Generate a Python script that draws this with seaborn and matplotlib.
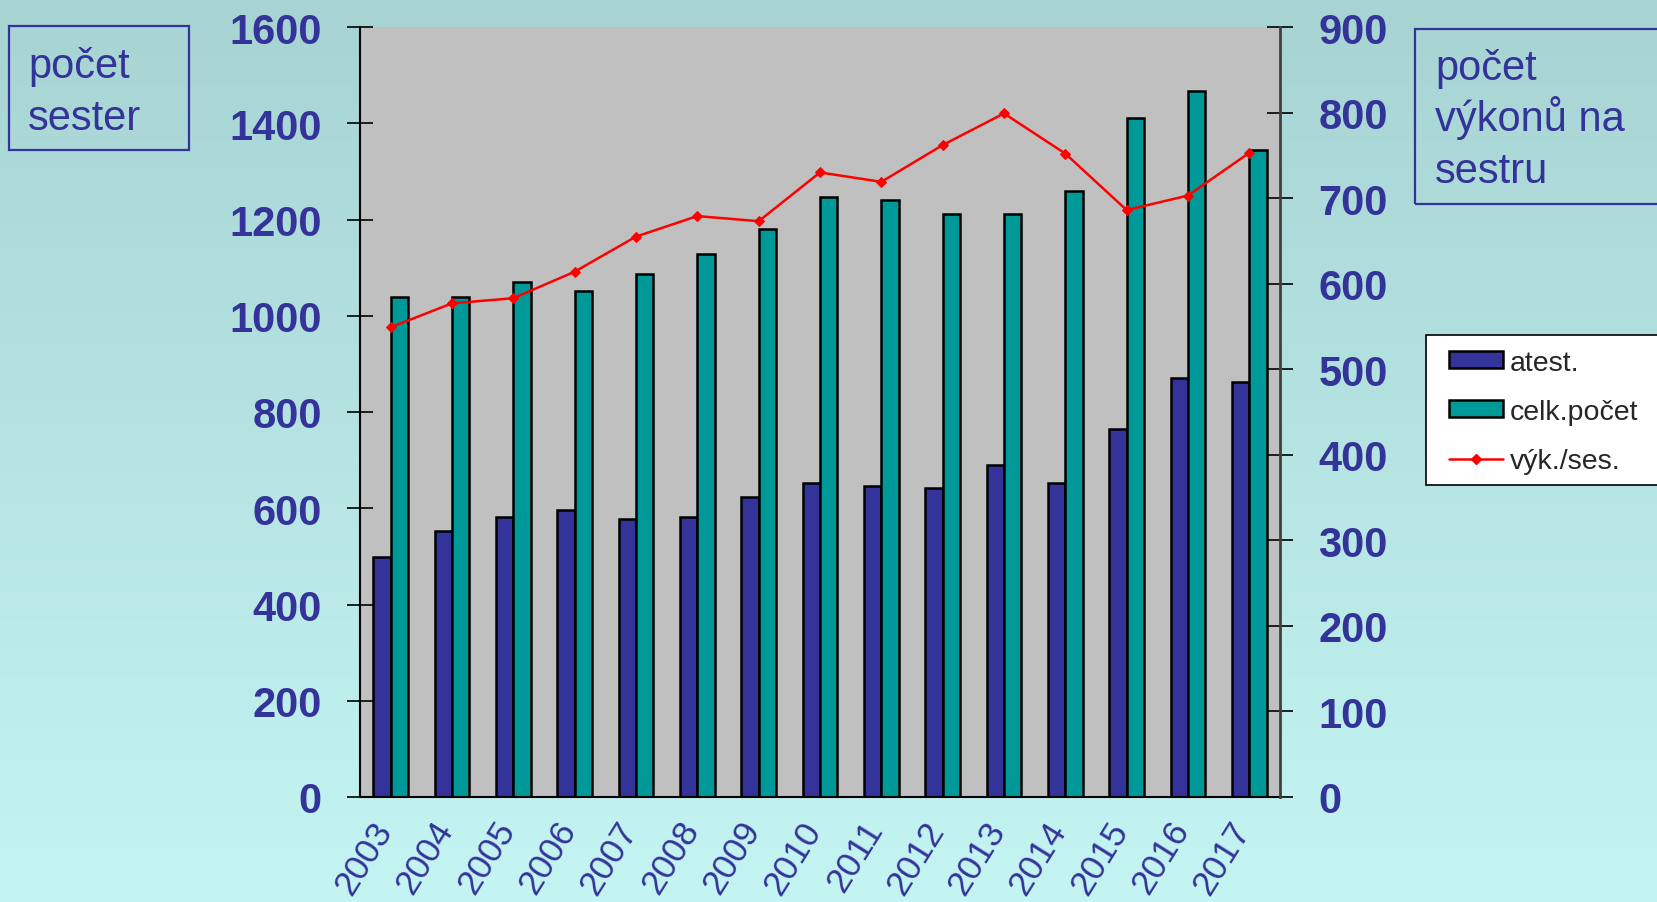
import matplotlib
matplotlib.use("Agg")
import matplotlib.pyplot as plt
import matplotlib.transforms as mtransforms
from matplotlib.colors import LinearSegmentedColormap
from matplotlib.patches import Patch, Rectangle
from matplotlib.lines import Line2D
import numpy as np
import pandas as pd
import seaborn as sns

# data
years = [str(y) for y in range(2003, 2018)]
atest = [498, 552, 581, 597, 578, 581, 624, 652, 647, 642, 690, 652, 765, 871, 863]
celk_pocet = [1038, 1038, 1071, 1052, 1087, 1129, 1180, 1246, 1241, 1211, 1211, 1259, 1410, 1467, 1344]
vyk_ses = [549, 577, 583, 614, 655, 679, 673, 730, 719, 762, 799, 752, 686, 703, 753]
series_names = ["atest.", "celk.počet", "výk./ses."]

sns.set_style("white")
plt.rcParams["font.family"] = ["Liberation Sans", "DejaVu Sans"]

BLUE = "#333399"
TEAL = "#009999"
W, H = 1657, 903

fig = plt.figure(figsize=(W / 100, H / 100), dpi=100)

# background gradient
bg = fig.add_axes([0, 0, 1, 1], zorder=-10)
grad = np.linspace(0, 1, 256).reshape(-1, 1)
cmap = LinearSegmentedColormap.from_list("bg", ["#a7d3d3", "#c4f5f3"])
bg.imshow(grad, aspect="auto", cmap=cmap, extent=[0, 1, 0, 1], origin="upper")
bg.axis("off")

# main axes (pixel box 360..1280, 28..798)
ax = fig.add_axes([360 / W, 1 - 798 / H, 920 / W, 770 / H])
ax.set_facecolor("#c0c0c0")

df = pd.DataFrame({
    "rok": years * 2,
    "pocet": atest + celk_pocet,
    "serie": [series_names[0]] * len(years) + [series_names[1]] * len(years),
})
sns.barplot(data=df, x="rok", y="pocet", hue="serie", palette=[BLUE, TEAL],
            width=0.57, edgecolor="black", linewidth=1.8, saturation=1,
            legend=False, ax=ax)

ax.set_xlim(-0.5, len(years) - 0.5)
ax.set_ylim(0, 1600)
ax.set_yticks(range(0, 1601, 200))
ax.set_xlabel("")
ax.set_ylabel("")

# category ticks at boundaries, labels at centers
ax.set_xticks(np.arange(len(years)))
ax.set_xticklabels(years, rotation=58, ha="right", va="top",
                   fontsize=25.5, color=BLUE)
ax.set_xticks(np.arange(len(years) + 1) - 0.5, minor=True)
ax.tick_params(axis="x", which="major", length=0, pad=13)
ax.tick_params(axis="x", which="minor", direction="inout", length=15,
               width=1.2, color="black")
shift = mtransforms.ScaledTranslation(8 / 100, 0, fig.dpi_scale_trans)
for lbl in ax.get_xticklabels():
    lbl.set_transform(lbl.get_transform() + shift)

ax.tick_params(axis="y", direction="inout", length=19, width=1.2,
               color="black", pad=18, labelsize=30, labelcolor=BLUE)
for lbl in ax.get_yticklabels():
    lbl.set_fontweight("bold")

for side in ["left", "bottom"]:
    ax.spines[side].set_visible(True)
    ax.spines[side].set_color("black")
    ax.spines[side].set_linewidth(1.5)
ax.spines["top"].set_visible(False)
ax.spines["right"].set_visible(False)

# secondary axis with the line
ax2 = ax.twinx()
sns.lineplot(x=np.arange(len(years)), y=vyk_ses, ax=ax2, color="red",
             linewidth=1.8, marker="D", markersize=5, markeredgecolor="red",
             legend=False)
ax2.set_ylim(0, 900)
ax2.set_yticks(range(0, 901, 100))
ax2.set_xlim(-0.5, len(years) - 0.5)
ax2.tick_params(axis="y", direction="inout", length=19, width=1.2,
                color="black", pad=18, labelsize=30, labelcolor=BLUE)
for lbl in ax2.get_yticklabels():
    lbl.set_fontweight("bold")
for side in ["left", "top", "bottom"]:
    ax2.spines[side].set_visible(False)
ax2.spines["right"].set_visible(True)
ax2.spines["right"].set_color("#404040")
ax2.spines["right"].set_linewidth(2)

# axis title boxes
def fig_xy(px, py):
    return px / W, 1 - py / H

fig.patches.append(Rectangle(fig_xy(9, 151), 180 / W, 124 / H,
                             transform=fig.transFigure, fill=False,
                             edgecolor=BLUE, linewidth=1.6))
for txt, base in [("počet", 78), ("sester", 130)]:
    fig.text(*fig_xy(28, base), txt, fontsize=30, color=BLUE, va="baseline")

fig.patches.append(Rectangle(fig_xy(1415, 205), 300 / W, 175 / H,
                             transform=fig.transFigure, fill=False,
                             edgecolor=BLUE, linewidth=1.6))
for txt, base in [("počet", 80), ("výkonů na", 131), ("sestru", 183)]:
    fig.text(*fig_xy(1435, base), txt, fontsize=30, color=BLUE, va="baseline")

# legend
fig.patches.append(Rectangle(fig_xy(1426, 486), 300 / W, 150 / H,
                             transform=fig.transFigure, facecolor="white",
                             edgecolor="black", linewidth=1.2, zorder=5))
handles = [
    Patch(facecolor=BLUE, edgecolor="black", linewidth=1.8),
    Patch(facecolor=TEAL, edgecolor="black", linewidth=1.8),
    Line2D([], [], color="red", linewidth=1.8, marker="D", markersize=5),
]
leg = fig.legend(handles, series_names, loc="upper left",
                 bbox_to_anchor=fig_xy(1440, 342), frameon=False,
                 fontsize=20.5, handlelength=1.9, handleheight=0.55,
                 handletextpad=0.25, labelspacing=0.82, borderpad=0.3,
                 borderaxespad=0)
leg.set_zorder(6)

fig.savefig("out.png", dpi=100)
